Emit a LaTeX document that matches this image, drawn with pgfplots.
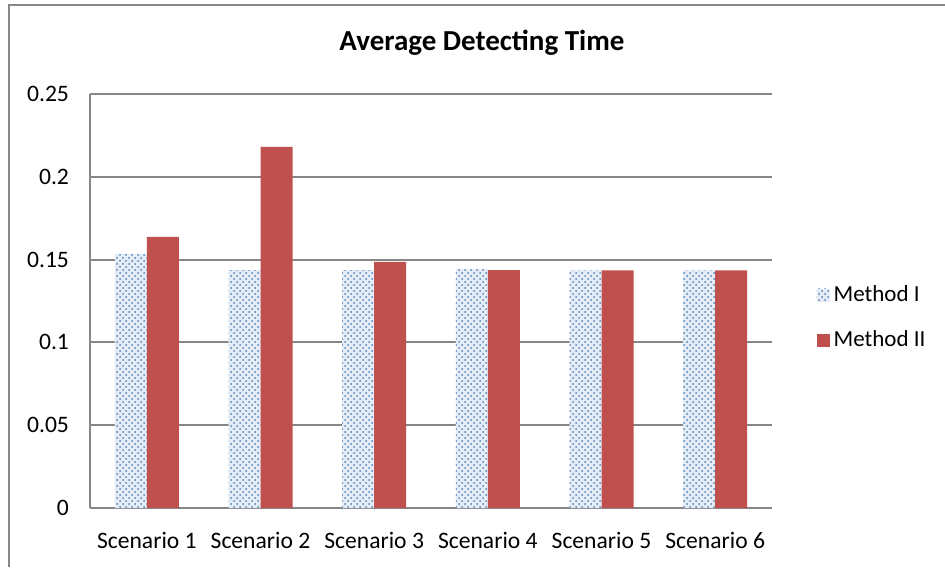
\documentclass[border=0pt]{standalone}
\usepackage{fontspec}
\setmainfont{Carlito}
\usepackage{pgfplots}
\pgfplotsset{compat=1.18}
\usetikzlibrary{patterns}
\definecolor{mred}{RGB}{192,80,77}
\definecolor{mblue}{RGB}{79,129,189}
\definecolor{gridc}{RGB}{134,134,134}
\begin{document}
\begin{tikzpicture}
\path[use as bounding box] (0,0) rectangle (472.5pt,283.5pt);
\draw[gridc, line width=0.8pt] (4.5pt,0) -- (4.5pt,281pt) -- (472.5pt,281pt);
\node[font=\fontsize{14.5}{17}\selectfont\bfseries] at (241pt,262pt) {Average Detecting Time};
\begin{axis}[
  at={(45pt,29.5pt)}, anchor=south west, scale only axis,
  width=341pt, height=207pt,
  ymin=0, ymax=0.25, ytick={0,0.05,0.1,0.15,0.2,0.25},
  xmin=-0.5, xmax=5.5, xtick={0,1,2,3,4,5},
  xticklabels={Scenario 1,Scenario 2,Scenario 3,Scenario 4,Scenario 5,Scenario 6},
  ybar=0pt, bar width=16pt,
  axis x line*=bottom, axis y line*=left,
  ymajorgrids, grid style={gridc, line width=1pt},
  major tick length=0pt,
  axis line style={gridc, line width=1pt},
  tick label style={font=\fontsize{11.8}{14}\selectfont, text=black},
  /pgf/number format/assume math mode=true,
  yticklabel style={/pgf/number format/fixed, /pgf/number format/precision=2, xshift=-7pt},
  xticklabel style={yshift=-8.5pt},
  legend style={at={(1.056,0.459)}, anchor=west, draw=none, fill=none,
    font=\fontsize{11.5}{14}\selectfont, row sep=9pt},
  legend cell align=left,
  legend image code/.code={\path[#1] (0pt,-3.2pt) rectangle (6.5pt,3.3pt);},
]
\addplot[draw=none, fill=mblue!15, postaction={pattern=crosshatch dots, pattern color=mblue}]
  coordinates {(0,0.1534) (1,0.1437) (2,0.1437) (3,0.1443) (4,0.1435) (5,0.1435)};
\addplot[draw=none, fill=mred]
  coordinates {(0,0.1637) (1,0.2180) (2,0.1486) (3,0.1437) (4,0.1435) (5,0.1435)};
\legend{Method I, Method II}
\end{axis}
\end{tikzpicture}
\end{document}
